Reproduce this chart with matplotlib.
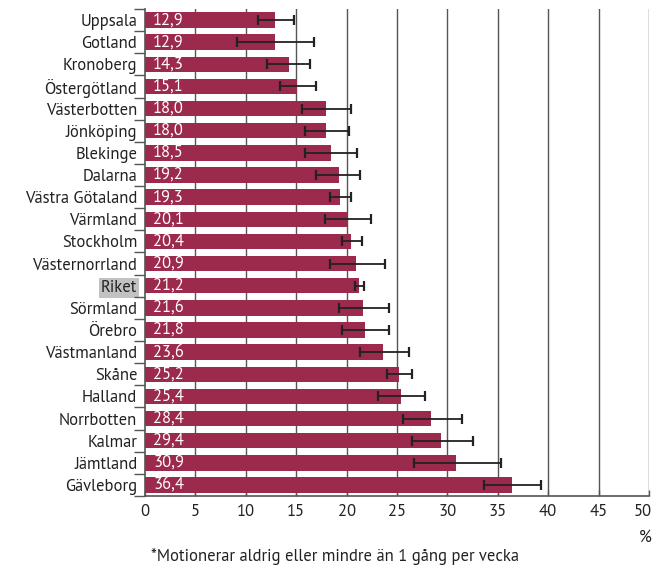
import matplotlib.pyplot as plt
import matplotlib.transforms as mtransforms
import numpy as np

plt.rcParams['font.family'] = ['PT Sans', 'DejaVu Sans']

regions = ['Uppsala', 'Gotland', 'Kronoberg', 'Östergötland', 'Västerbotten',
           'Jönköping', 'Blekinge', 'Dalarna', 'Västra Götaland', 'Värmland',
           'Stockholm', 'Västernorrland', 'Riket', 'Sörmland', 'Örebro',
           'Västmanland', 'Skåne', 'Halland', 'Norrbotten', 'Kalmar',
           'Jämtland', 'Gävleborg']
values = [12.9, 12.9, 14.3, 15.1, 18.0, 18.0, 18.5, 19.2, 19.3, 20.1, 20.4,
          20.9, 21.2, 21.6, 21.8, 23.6, 25.2, 25.4, 28.4, 29.4, 30.9, 36.4]
ci_low = [11.2, 9.1, 12.1, 13.4, 15.6, 15.9, 15.9, 17.0, 18.35, 17.9, 19.5,
          18.35, 20.8, 19.25, 19.5, 21.3, 24.0, 23.1, 25.6, 26.5, 26.65, 33.6]
ci_high = [14.75, 16.8, 16.4, 17.0, 20.4, 20.2, 21.05, 21.3, 20.4, 22.4, 21.5,
           23.8, 21.7, 24.2, 24.2, 26.2, 26.5, 27.8, 31.4, 32.5, 35.3, 39.3]
xticks = [0, 5, 10, 15, 20, 25, 30, 35, 40, 45, 50]

BAR_COLOR = '#9b2a4d'
TEXT_COLOR = '#222222'
LINE_COLOR = '#555555'
FS = 12

fig = plt.figure(figsize=(6.55, 5.67), dpi=100)
ax = fig.add_axes([145 / 655, 1 - 496 / 567, 504 / 655, 487 / 567])

y = np.arange(len(regions))
vals = np.array(values)
err = [vals - np.array(ci_low), np.array(ci_high) - vals]

ax.barh(y, vals, height=0.7, color=BAR_COLOR, zorder=2)
ax.errorbar(vals, y, xerr=err, fmt='none', ecolor=TEXT_COLOR, elinewidth=1.3,
            capsize=3.5, capthick=1.6, zorder=3)

for yi, v in zip(y, values):
    ax.text(0.8, yi, f'{v:.1f}'.replace('.', ','), color='white', fontsize=FS,
            va='center', ha='left', zorder=4)

ax.set_xlim(0, 50)
ax.set_ylim(len(regions) - 0.5, -0.5)

# vertical gridlines every 5 units
for xv in xticks[1:]:
    ax.axvline(xv, color=LINE_COLOR, lw=1.0, zorder=1)

ax.set_xticks(xticks)
ax.set_xticklabels([str(t) for t in xticks], fontsize=FS, color=TEXT_COLOR)
ax.tick_params(axis='x', direction='in', length=4, width=1, color=LINE_COLOR, pad=6)
# keep the last tick label inside the figure
last = ax.get_xticklabels()[-1]
last.set_transform(last.get_transform()
                   + mtransforms.ScaledTranslation(-6 / 100, 0, fig.dpi_scale_trans))

ax.set_yticks(y)
ax.set_yticklabels(regions, fontsize=FS, color=TEXT_COLOR)
ax.tick_params(axis='y', which='major', length=0, pad=5.5)
ax.set_yticks(np.arange(-0.5, len(regions)), minor=True)
ax.tick_params(axis='y', which='minor', direction='out', length=8, width=1,
               color=LINE_COLOR)

for lbl in ax.get_yticklabels():
    if lbl.get_text() == 'Riket':
        lbl.set_bbox(dict(facecolor='#c2c2c2', edgecolor='none', pad=1.5))

for side in ['top', 'right']:
    ax.spines[side].set_visible(False)
for side in ['left', 'bottom']:
    ax.spines[side].set_color(LINE_COLOR)
    ax.spines[side].set_linewidth(1.2)

fig.text(652 / 655, 1 - 538 / 567, '%', ha='right', va='center', fontsize=FS,
         color=TEXT_COLOR)
fig.text(335 / 655, 1 - 557 / 567,
         '*Motionerar aldrig eller mindre än 1 gång per vecka',
         ha='center', va='center', fontsize=FS, color=TEXT_COLOR)

fig.savefig('out.png', dpi=100)
